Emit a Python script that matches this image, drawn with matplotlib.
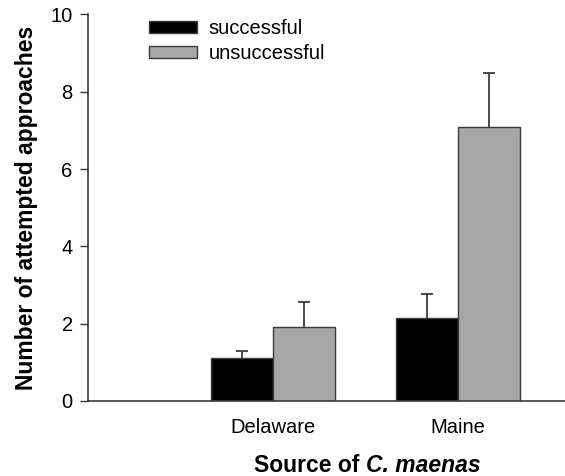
import numpy as np
import matplotlib
matplotlib.use("Agg")
import matplotlib.pyplot as plt
from matplotlib.patches import Patch

plt.rcParams['font.family'] = ['Liberation Sans', 'DejaVu Sans']

# data
sources = ["Delaware", "Maine"]
successful = [1.10, 2.16]
successful_err = [0.20, 0.61]
unsuccessful = [1.92, 7.08]
unsuccessful_err = [0.65, 1.40]
y_ticks = [0, 2, 4, 6, 8, 10]

GREY = "#a7a7a7"
EDGE = "#3c3c3c"
FS = 14.5

fig = plt.figure(figsize=(5.65, 4.76), dpi=100)
ax = fig.add_axes([88 / 565, 1 - 401 / 476, 1 - 88 / 565, (401 - 14.5) / 476])

x = np.arange(1, len(sources) + 1)
width = 0.335

ax.bar(x - width / 2, successful, width, color="black", edgecolor=EDGE, linewidth=1, zorder=2)
ax.bar(x + width / 2, unsuccessful, width, color=GREY, edgecolor=EDGE, linewidth=1, zorder=2)

# error bars sit behind the bars so only the upper half shows
ax.errorbar(x - width / 2, successful, yerr=successful_err,
            fmt="none", ecolor=EDGE, elinewidth=1.3, capsize=4.3, capthick=1.3, zorder=1)
ax.errorbar(x + width / 2, unsuccessful, yerr=unsuccessful_err,
            fmt="none", ecolor=EDGE, elinewidth=1.3, capsize=4.3, capthick=1.3, zorder=1)

ax.set_xlim(0, 2.58)
ax.set_ylim(0, 10)
ax.set_yticks(y_ticks)
ax.set_xticks(x)
ax.set_xticklabels(sources)
ax.tick_params(axis="x", length=0, pad=12, labelsize=FS)
ax.tick_params(axis="y", direction="out", length=6, width=1, color=EDGE, labelsize=FS, pad=5)

for side in ["top", "right"]:
    ax.spines[side].set_visible(False)
for side in ["left", "bottom"]:
    ax.spines[side].set_color(EDGE)
    ax.spines[side].set_linewidth(1.2)

ax.set_ylabel("Number of attempted approaches", fontsize=16.5, fontweight="bold", labelpad=9)

# x label: plain bold part + bold italic species name, placed side by side
renderer = fig.canvas.get_renderer()
part1 = fig.text(0, 1 - 465 / 476, "Source of ", fontsize=16.5, fontweight="bold", va="center")
part2 = fig.text(0, 1 - 465 / 476, "C. maenas", fontsize=16.5, fontweight="bold",
                 style="italic", va="center")
w1 = part1.get_window_extent(renderer).width
w2 = part2.get_window_extent(renderer).width
x0 = 367 - (w1 + w2) / 2
part1.set_x(x0 / 565)
part2.set_x((x0 + w1) / 565)

handles = [Patch(facecolor="black", edgecolor=EDGE, label="successful"),
           Patch(facecolor=GREY, edgecolor=EDGE, label="unsuccessful")]
ax.legend(handles=handles, loc="upper left", bbox_to_anchor=(0.128, 0.988), frameon=False,
          borderaxespad=0, borderpad=0, fontsize=FS, handlelength=2.4, handleheight=0.55,
          labelspacing=0.3, handletextpad=0.55)

fig.savefig("out.png", dpi=100)
